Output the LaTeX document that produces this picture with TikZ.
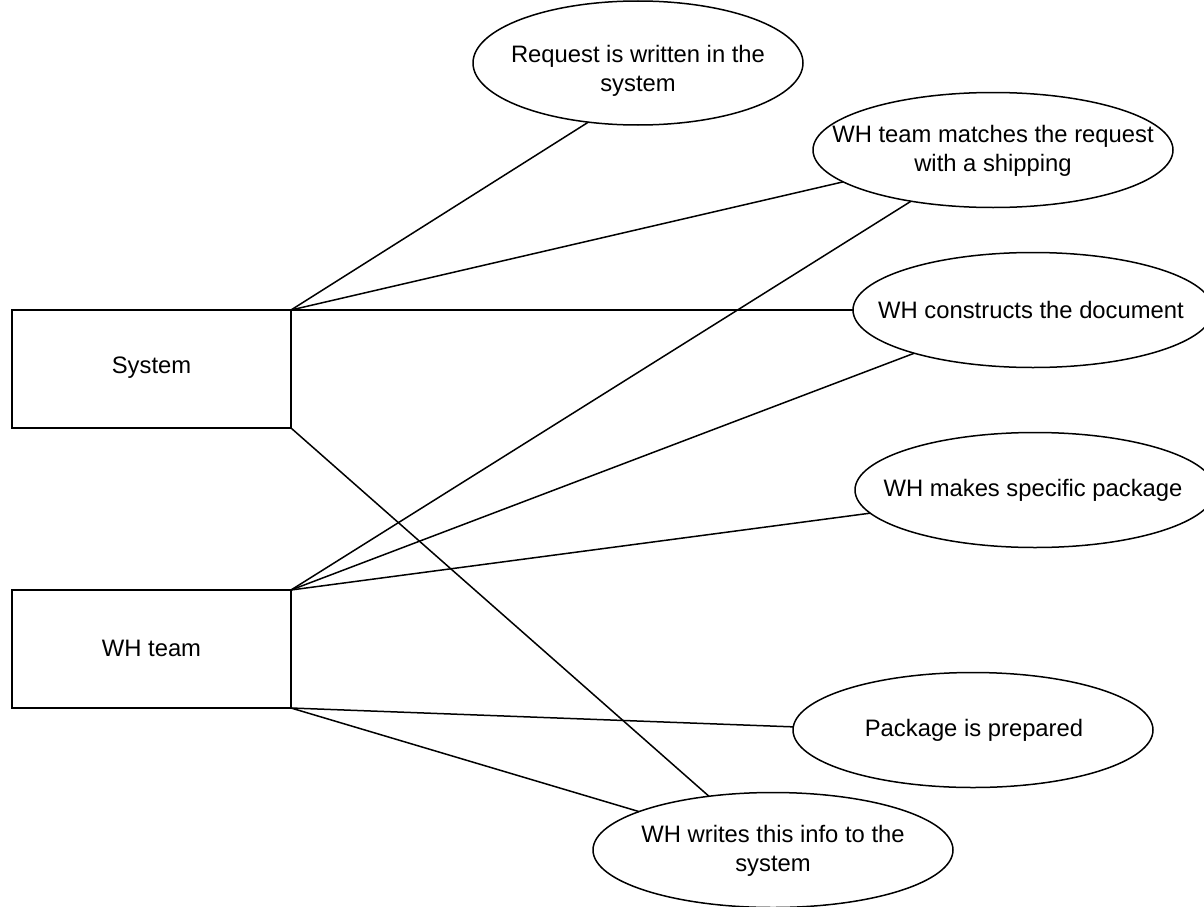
\documentclass[tikz,border=0pt]{standalone}
\usepackage{fontspec}
\setmainfont{Liberation Sans}
\usetikzlibrary{shapes.geometric}
\begin{document}
\begin{tikzpicture}[x=1pt,y=1pt,
  line width=1.5pt,
  actor/.style={draw, rectangle, minimum width=279pt, minimum height=118pt, inner sep=0pt, outer sep=0pt},
  usecase/.style={draw, ellipse, minimum width=360pt, minimum height=115pt, inner sep=0pt, outer sep=0pt},
  lbl/.style={align=center, font=\fontsize{23.8}{29}\selectfont, inner sep=0pt},
  link/.style={draw, line width=1.5pt}
]
\useasboundingbox (0,0) rectangle (1204,-907);
\clip (0,0) rectangle (1204,-907);
\fill[white] (0,0) rectangle (1204,-907);

% actors
\node[actor] (sys) at (151.5,-369) {};
\node[lbl] (sysT) at (151.5,-368) {System};
\node[actor] (wh) at (151.5,-649) {};
\node[lbl] (whT) at (151.5,-648) {WH team};

% use cases
\node[usecase, minimum width=330pt, minimum height=124pt] (e1) at (638,-63) {};
\node[lbl] (t1) at (638,-71) {Request is written in the\\system};
\node[usecase] (e2) at (993,-150) {};
\node[lbl] (t2) at (993,-151) {WH team matches the request\\with a shipping};
\node[usecase] (e3) at (1033,-310) {};
\node[lbl] (t3) at (1031,-310) {WH constructs the document};
\node[usecase] (e4) at (1035,-490) {};
\node[lbl] (t4) at (1033,-490) {WH makes specific package};
\node[usecase] (e5) at (973,-730) {};
\node[lbl] (t5) at (974,-730) {Package is prepared};
\node[usecase] (e6) at (773,-850) {};
\node[lbl] (t6) at (773,-851) {WH writes this info to the\\system};

% associations of System
\draw[link] (sys.north east) -- (e1.230);
\draw[link] (sys.north east) -- (e2.192.5);
\draw[link] (sys.north east) -- (e3.180.5);
\draw[link] (sys.south east) -- (e6.140);

% associations of WH team
\draw[link] (wh.north east) -- (e2.212.5);
\draw[link] (wh.north east) -- (e3.200);
\draw[link] (wh.north east) -- (e4.188);
\draw[link] (wh.south east) -- (e5.179.5);
\draw[link] (wh.south east) -- (e6.164);
\end{tikzpicture}
\end{document}
